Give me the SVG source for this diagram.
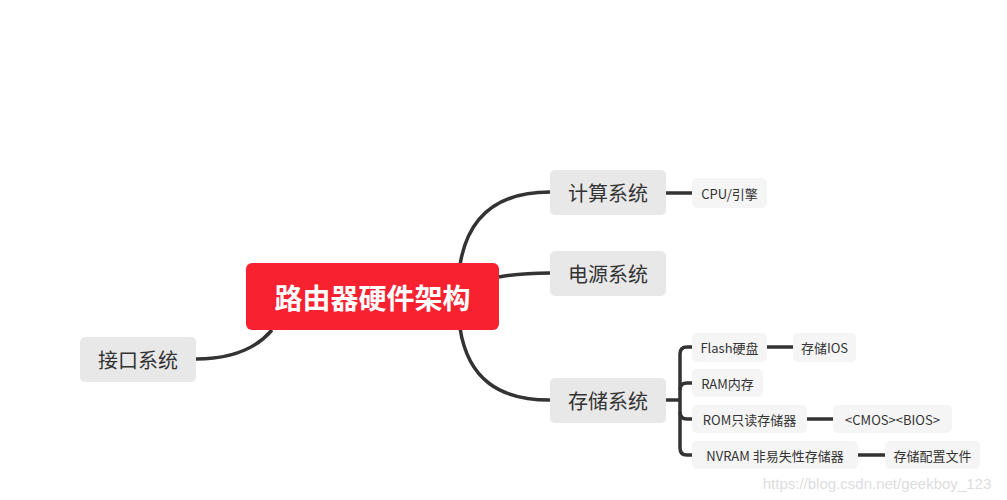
<svg xmlns="http://www.w3.org/2000/svg" width="1007" height="500" viewBox="0 0 1007 500">
<style>
text{font-family:"Noto Sans CJK SC","Liberation Sans",sans-serif;text-anchor:middle;dominant-baseline:central}
.sub rect{fill:#E8E8E8}
.sub text{font-size:20px;fill:#333}
.leaf rect{fill:#F5F5F5}
.leaf text{font-size:13px;fill:#333}
.conn path{fill:none;stroke:#333;stroke-width:3.5;stroke-linecap:butt}
</style>
<rect width="1007" height="500" fill="#fff"/>
<g class="conn" id="connectors">
<path d="M460,265 C468,215 500,192 550,192"/>
<path d="M499,277 C515,274 530,273 550,273"/>
<path d="M460,328 C468,380 500,400 550,400"/>
<path d="M272,330 C255,350 230,359 196,359"/>
<path d="M666,193 H692"/>
<path d="M666,400 H680"/>
<path d="M692,347 H687 Q680,347 680,354 V448 Q680,455 687,455 H692"/>
<path d="M680,390 Q680,383 687,383 H692"/>
<path d="M680,412 Q680,419 687,419 H692"/>
<path d="M767,347 H793"/>
<path d="M807,419 H833"/>
<path d="M858,455 H885"/>
</g>
<g id="root">
<rect x="246" y="263" width="253" height="67" rx="6" fill="#F82130"/>
<text x="372.5" y="297" font-size="28" font-weight="bold" fill="#fff">路由器硬件架构</text>
</g>
<g id="n-compute" class="sub"><rect x="550" y="170" width="116" height="45" rx="5"/><text x="608" y="192.5">计算系统</text></g>
<g id="n-power" class="sub"><rect x="550" y="251" width="116" height="45" rx="5"/><text x="608" y="273.5">电源系统</text></g>
<g id="n-storage" class="sub"><rect x="550" y="378" width="116" height="45" rx="5"/><text x="608" y="400.5">存储系统</text></g>
<g id="n-interface" class="sub"><rect x="80" y="337" width="116" height="45" rx="5"/><text x="138" y="359.5">接口系统</text></g>
<g id="n-cpu" class="leaf"><rect x="692" y="178" width="75" height="30" rx="5"/><text x="729.5" y="193">CPU/引擎</text></g>
<g id="n-flash" class="leaf"><rect x="692" y="333" width="75" height="29" rx="5"/><text x="729.5" y="347.5">Flash硬盘</text></g>
<g id="n-ios" class="leaf"><rect x="793" y="333" width="63" height="29" rx="5"/><text x="824.5" y="347.5">存储IOS</text></g>
<g id="n-ram" class="leaf"><rect x="692" y="369" width="71" height="28" rx="5"/><text x="727.5" y="383">RAM内存</text></g>
<g id="n-rom" class="leaf"><rect x="692" y="405" width="115" height="28" rx="5"/><text x="749.5" y="419">ROM只读存储器</text></g>
<g id="n-cmos" class="leaf"><rect x="833" y="405" width="119" height="28" rx="5"/><text x="892.5" y="419">&lt;CMOS&gt;&lt;BIOS&gt;</text></g>
<g id="n-nvram" class="leaf"><rect x="692" y="441" width="166" height="28" rx="5"/><text x="775" y="455">NVRAM 非易失性存储器</text></g>
<g id="n-config" class="leaf"><rect x="885" y="441" width="95" height="28" rx="5"/><text x="932.5" y="455">存储配置文件</text></g>
<text x="877" y="483" font-size="15" fill="#DDDDDD" style="font-family:'Liberation Sans',sans-serif">https://blog.csdn.net/geekboy_123</text>
</svg>
